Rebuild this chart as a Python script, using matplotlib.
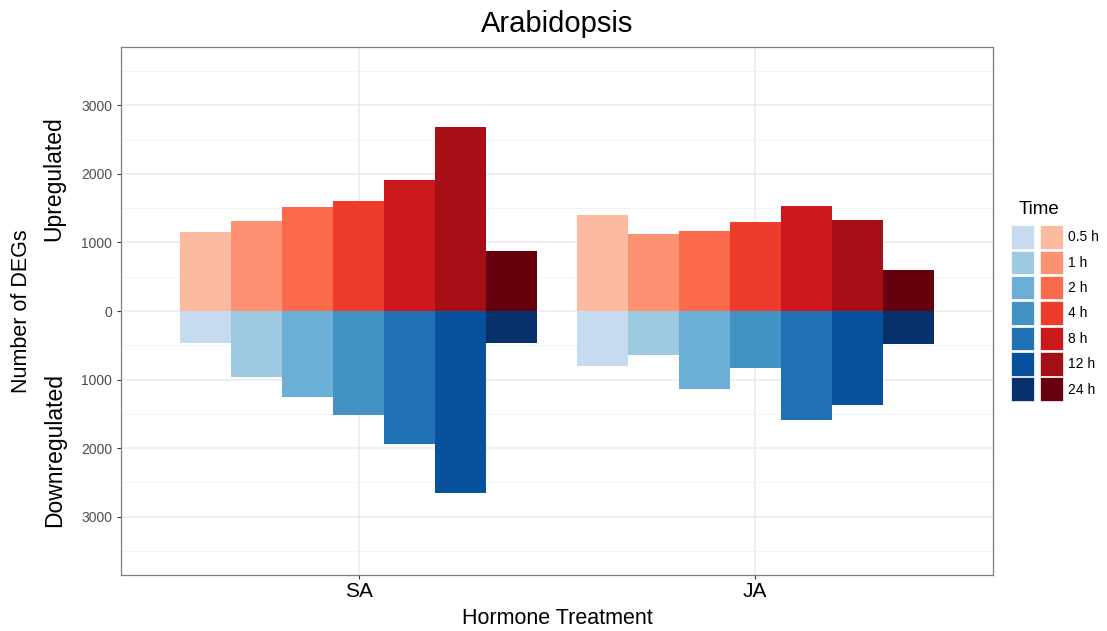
import numpy as np
import matplotlib
matplotlib.use("Agg")
import matplotlib.pyplot as plt
from matplotlib.patches import Patch
from matplotlib.legend_handler import HandlerTuple

plt.rcParams['font.family'] = ['Liberation Sans', 'DejaVu Sans']

# ===== data =====
treatments = ["SA", "JA"]
times = ["0.5 h", "1 h", "2 h", "4 h", "8 h", "12 h", "24 h"]
up_SA = [1146, 1320, 1515, 1607, 1908, 2689, 869]
down_SA = [461, 961, 1257, 1519, 1942, 2655, 461]
up_JA = [1394, 1123, 1162, 1297, 1525, 1331, 600]
down_JA = [803, 644, 1137, 833, 1588, 1370, 484]
reds = ["#fcbba1", "#fc9272", "#fb6a4a", "#ef3b2c", "#cb181d", "#a50f15", "#67000d"]
blues = ["#c6dbef", "#9ecae1", "#6baed6", "#4292c6", "#2171b5", "#08519c", "#08306b"]
y_ticks = [-3000, -2000, -1000, 0, 1000, 2000, 3000]

up = np.array([up_SA, up_JA])
down = np.array([down_SA, down_JA])

fig = plt.figure(figsize=(11.07, 6.31), dpi=100)
ax = fig.add_axes([0.1093, 0.0887, 0.7877, 0.8368])

x = np.arange(1, len(treatments) + 1)
n = len(times)
w = 0.9 / n
for i in range(n):
    pos = x - 0.45 + w * (i + 0.5)
    ax.bar(pos, up[:, i], width=w, color=reds[i], linewidth=0, zorder=3)
    ax.bar(pos, -down[:, i], width=w, color=blues[i], linewidth=0, zorder=3)

ax.set_xlim(0.4, 2.6)
ax.set_ylim(-3850, 3850)
ax.set_xticks(x)
ax.set_xticklabels(treatments, fontsize=15)
ax.set_yticks(y_ticks)
ax.set_yticklabels([str(abs(v)) for v in y_ticks], fontsize=10, color="#4d4d4d")
ax.set_yticks([-3500, -2500, -1500, -500, 500, 1500, 2500, 3500], minor=True)
ax.tick_params(axis="both", which="major", length=3, color="#333333", width=0.8)
ax.tick_params(axis="x", which="major", pad=2)
ax.tick_params(axis="y", which="minor", length=0)
ax.grid(True, which="major", color="#ebebeb", linewidth=1.1, zorder=0)
ax.grid(True, which="minor", axis="y", color="#f2f2f2", linewidth=0.6, zorder=0)
for s in ax.spines.values():
    s.set_color("#7f7f7f")
    s.set_linewidth(0.9)

ax.set_xlabel("Hormone Treatment", fontsize=15.5, labelpad=5)
ax.set_title("Arabidopsis", fontsize=21, pad=11)

fig.text(0.019, 1 - 311 / 631, "Number of DEGs", rotation=90, fontsize=15.5, ha="center", va="center")
fig.text(0.049, 1 - 179 / 631, "Upregulated", rotation=90, fontsize=16.5, ha="center", va="center")
fig.text(0.049, 1 - 450 / 631, "Downregulated", rotation=90, fontsize=16.5, ha="center", va="center")

# legend: blue + red swatch per time point
handles = [(Patch(facecolor=b, edgecolor="white", linewidth=0.5),
            Patch(facecolor=r, edgecolor="white", linewidth=0.5)) for b, r in zip(blues, reds)]
leg = fig.legend(handles, times, loc="upper left",
                 bbox_to_anchor=(1000 / 1107, 1 - 214 / 631),
                 handler_map={tuple: HandlerTuple(ndivide=None, pad=0.4)},
                 handlelength=3.7, handleheight=2.22, labelspacing=0.14,
                 handletextpad=0.36, borderpad=0.3, frameon=False, fontsize=10)
fig.text(1019 / 1107, 1 - 210 / 631, "Time", fontsize=13.5, ha="left", va="center")

fig.savefig("out.png", dpi=100)
